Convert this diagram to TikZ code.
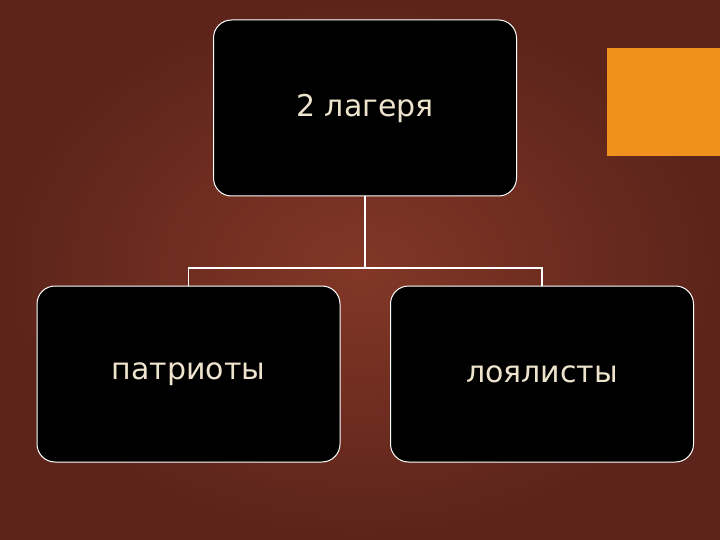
\documentclass[tikz,border=0pt]{standalone}
\usepackage{fontspec}
\setmainfont{DejaVu Sans}
\definecolor{bgmid}{RGB}{130,55,38}
\definecolor{bgedge}{RGB}{92,36,26}
\definecolor{txt}{RGB}{238,228,205}
\definecolor{orng}{RGB}{240,145,30}
\begin{document}
\begin{tikzpicture}[x=1pt,y=-1pt,
  boxst/.style={draw=white,line width=1pt,fill=black,rounded corners=18pt,minimum width=303pt,minimum height=176pt,text=txt,font=\fontsize{30}{36}\selectfont},
  link/.style={draw=white,line width=1.5pt}]
\useasboundingbox (0,0) rectangle (720,540);
\shade[inner color=bgmid,outer color=bgedge] (0,0) rectangle (720,540);
\fill[orng] (607,48) rectangle (720,156);
\node[boxst] (top) at (365,108) {2 лагеря};
\node[boxst] (l) at (188.5,374) {патриоты};
\node[boxst] (r) at (542,374) {лоялисты};
\coordinate (mid) at (365,268);
\draw[link] (top.south) -- (mid) -| (l.north);
\draw[link] (mid) -| (r.north);
\end{tikzpicture}
\end{document}
